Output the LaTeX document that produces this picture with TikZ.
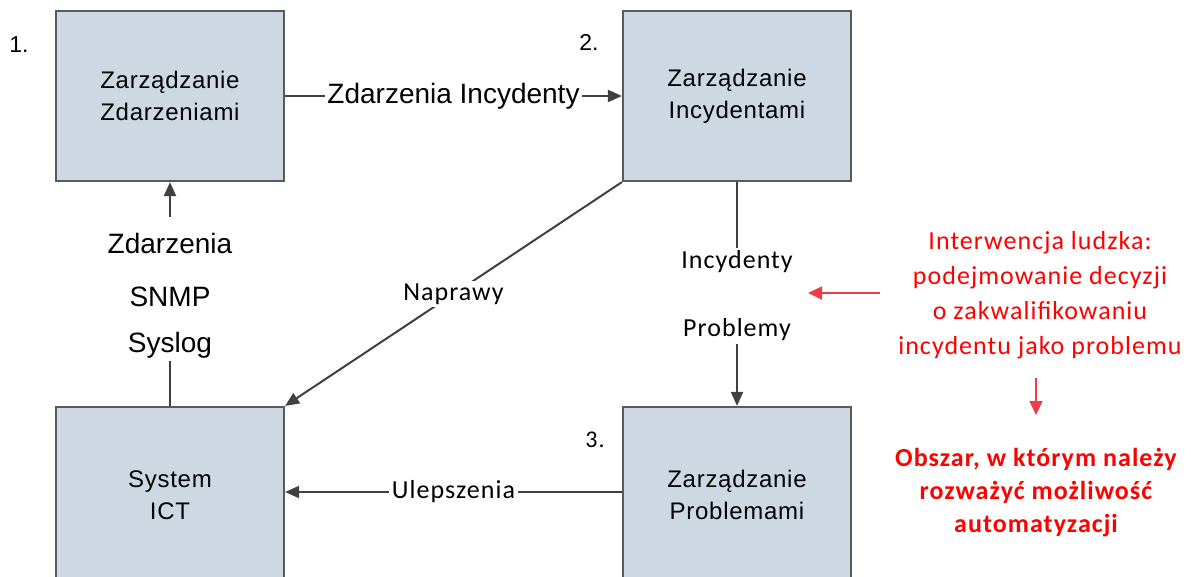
\documentclass[tikz,border=0pt]{standalone}
\usepackage{fontspec}
\setmainfont{Liberation Sans}
\newfontfamily\calfont[LetterSpace=4]{Carlito}
\newfontfamily\arialsp[LetterSpace=3]{Liberation Sans}
\usetikzlibrary{arrows.meta}
\definecolor{boxfill}{RGB}{205,216,227}
\definecolor{boxline}{RGB}{90,90,90}
\definecolor{conn}{RGB}{64,64,64}
\definecolor{redtxt}{RGB}{255,0,0}
\definecolor{redarrow}{RGB}{240,60,70}
\tikzset{
  procbox/.style={draw=boxline, line width=2.2pt, fill=boxfill,
    minimum width=228pt, minimum height=170pt, inner sep=0pt,
    align=center, font=\arialsp\fontsize{24}{32}\selectfont},
  lowbox/.style={procbox, minimum height=176pt},
  conline/.style={draw=conn, line width=2pt},
  arr/.style={conline, -{Triangle[length=14pt,width=12pt]}},
  biglabel/.style={inner sep=2pt, font=\fontsize{28}{46}\selectfont, align=center},
  callabel/.style={inner sep=3pt, fill=white, font=\calfont\fontsize{26}{35}\selectfont, align=center},
  numlabel/.style={inner sep=0pt, font=\fontsize{23}{28}\selectfont},
  redarr/.style={draw=redarrow, line width=2pt, -{Triangle[length=14pt,width=13pt]}},
  rednote/.style={inner sep=0pt, text=redtxt, align=center, font=\calfont\fontsize{26}{35}\selectfont},
  redbold/.style={inner sep=0pt, text=redtxt, align=center, font=\calfont\bfseries\fontsize{26}{33}\selectfont}
}
\begin{document}
\begin{tikzpicture}[x=1pt, y=-1pt]
\useasboundingbox (0,0) rectangle (1191,576);
\clip (0,0) rectangle (1191,576);

% process boxes (the lower pair runs past the bottom edge)
\node[procbox] (zz) at (170,96) {Zarządzanie\\Zdarzeniami};
\node[procbox] (zi) at (737,96) {Zarządzanie\\Incydentami};
\node[lowbox] (ict) at (170,495) {System\\ICT};
\node[lowbox] (zp) at (737,495) {Zarządzanie\\Problemami};

% numbering
\node[numlabel] (n1) at (19,45) {1.};
\node[numlabel] (n2) at (589,42) {2.};
\node[numlabel, font=\calfont\fontsize{24}{28}\selectfont] (n3) at (595,440) {3.};

% events -> incidents
\draw[arr] (zz.east) -- node[biglabel, fill=white] {Zdarzenia Incydenty} (zi.west);

% events from ICT
\node[biglabel] (zd) at (170,243) {Zdarzenia};
\draw[arr] (zd.north) ++(0,-14) -- (zz.south);
\node[biglabel] (snmp) at (170,323) {SNMP\\Syslog};
\draw[conline] (snmp.south) -- (ict.north);

% repairs
\draw[arr] (zi.south west) -- node[callabel] {Naprawy} (ict.north east);

% incidents -> problems
\node[callabel] (inc) at (737,262) {Incydenty};
\node[callabel] (prb) at (737,330) {Problemy};
\draw[conline] (zi.south) -- (inc.north);
\draw[arr] (prb.south) -- (zp.north);

% improvements
\draw[arr] (zp.west |- 0,492) -- node[callabel] {Ulepszenia} (ict.east |- 0,492);

% human intervention note
\node[rednote] (hum) at (1040,295) {Interwencja ludzka:\\podejmowanie decyzji\\o zakwalifikowaniu\\incydentu jako problemu};
\coordinate (ra1) at (880,293);
\coordinate (ra2) at (808,293);
\draw[redarr] (ra1) -- (ra2);
\node[redbold] (auto) at (1036,493) {Obszar, w którym należy\\rozważyć możliwość\\automatyzacji};
\coordinate (rb1) at (1036,378);
\coordinate (rb2) at (1036,415);
\draw[redarr] (rb1) -- (rb2);
\end{tikzpicture}
\end{document}
